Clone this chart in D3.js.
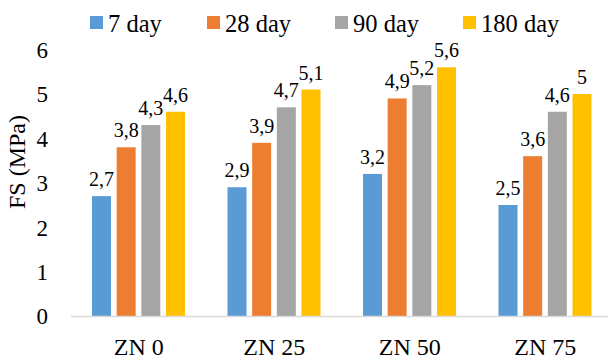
<html><head><meta charset="utf-8">
<script src="https://cdn.jsdelivr.net/npm/d3@7/dist/d3.min.js"></script>
</head><body style="margin:0">
<svg id="fs-plot" width="608" height="360"></svg>
<script>
// Flexural strength by mix and curing age
const categories = ["ZN 0", "ZN 25", "ZN 50", "ZN 75"];
const seriesNames = ["7 day", "28 day", "90 day", "180 day"];
const day7   = [2.7, 2.9, 3.2, 2.5];
const day28  = [3.8, 3.9, 4.9, 3.6];
const day90  = [4.3, 4.7, 5.2, 4.6];
const day180 = [4.6, 5.1, 5.6, 5.0];
const yTicks = [0, 1, 2, 3, 4, 5, 6];
const colors = ["#5B9BD5", "#ED7D31", "#A5A5A5", "#FFC000"];

const FONT = `"Liberation Serif", Tinos, "Times New Roman", serif`;
const seriesValues = [day7, day28, day90, day180];
const rows = categories.map((c, i) => ({
  cat: c,
  vals: seriesNames.map((s, j) => ({ key: s, value: seriesValues[j][i], color: colors[j] }))
}));

const svg = d3.select("#fs-plot");
const setFont = (sel, size) => sel
  .attr("font-family", FONT)
  .style("font-family", FONT)
  .attr("font-size", size);

const x0 = d3.scaleBand().domain(categories).range([71, 613]).padding(0);
const x1 = d3.scaleBand().domain(seriesNames).range([21, 114]).paddingInner(0.23).paddingOuter(0);
const y = d3.scaleLinear().domain([0, 6]).range([316, 49.6]);

// Bars
const groups = svg.append("g").selectAll("g")
  .data(rows).join("g")
  .attr("transform", d => `translate(${x0(d.cat)},0)`);

groups.selectAll("rect")
  .data(d => d.vals).join("rect")
  .attr("x", d => x1(d.key))
  .attr("width", x1.bandwidth())
  .attr("y", d => y(d.value))
  .attr("height", d => y(0) - y(d.value))
  .attr("fill", d => d.color);

// Value labels, decimal comma
const fmt = v => String(v).replace(".", ",");
groups.selectAll("text")
  .data(d => d.vals).join("text")
  .attr("x", d => x1(d.key) + x1.bandwidth() / 2)
  .attr("y", d => y(d.value) - 10)
  .attr("text-anchor", "middle")
  .attr("fill", "#000")
  .text(d => fmt(d.value))
  .call(setFont, 20);

// Category axis
const xAxis = svg.append("g")
  .attr("transform", `translate(0,${y(0)})`)
  .call(d3.axisBottom(x0).tickSize(0).tickPadding(0));
xAxis.attr("font-family", FONT).attr("font-size", null);
xAxis.select(".domain").attr("d", "M71,0.5H608").attr("stroke", "#D9D9D9").attr("stroke-width", 1.5);
xAxis.selectAll("text")
  .attr("y", 39)
  .attr("dy", null)
  .attr("fill", "#000")
  .call(setFont, 24);

// Value axis (labels only)
const yAxis = svg.append("g")
  .attr("transform", "translate(48,0)")
  .call(d3.axisLeft(y).tickValues(yTicks).tickFormat(d3.format("d")).tickSize(0).tickPadding(0));
yAxis.attr("font-family", FONT).attr("font-size", null);
yAxis.select(".domain").remove();
yAxis.selectAll("text")
  .attr("dy", "0.34em")
  .attr("fill", "#000")
  .call(setFont, 23);

// Axis title
svg.append("text")
  .attr("transform", "translate(25,162) rotate(-90)")
  .attr("text-anchor", "middle")
  .attr("fill", "#000")
  .text("FS (MPa)")
  .call(setFont, 24);

// Legend: swatch + label, items laid out along the top
const legendX = d3.scalePoint().domain(seriesNames).range([90, 463]);
const legendStarts = [90, 207, 335, 463];
const legend = svg.append("g").selectAll("g")
  .data(seriesNames).join("g")
  .attr("transform", (d, i) => `translate(${legendStarts[i]},0)`);
legend.append("rect")
  .attr("y", 16)
  .attr("width", 13).attr("height", 13)
  .attr("fill", (d, i) => colors[i]);
legend.append("text")
  .attr("x", 18).attr("y", 32)
  .attr("fill", "#000")
  .text(d => d)
  .call(setFont, 24.5);
</script></body></html>
